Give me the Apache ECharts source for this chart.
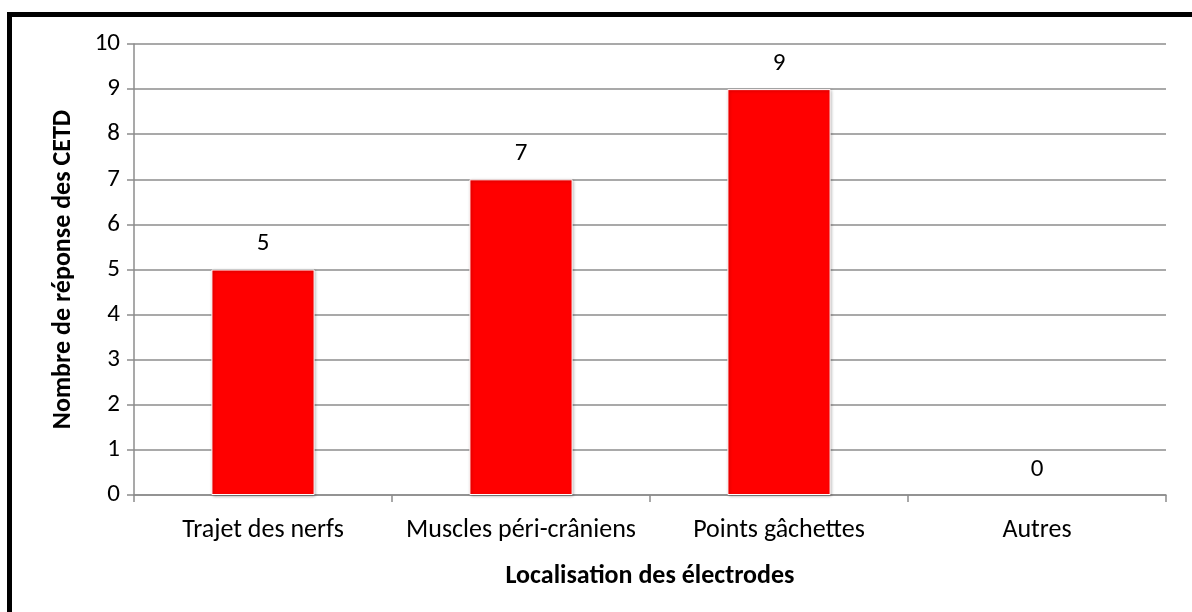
<!DOCTYPE html>
<html><head><meta charset="utf-8">
<script src="https://cdn.jsdelivr.net/npm/echarts@6/dist/echarts.min.js"></script>
<style>html,body{margin:0;padding:0;background:#fff}#c{width:1192px;height:612px}</style>
</head><body><div id="c"></div>
<script>
const categories = ['Trajet des nerfs', 'Muscles péri-crâniens', 'Points gâchettes', 'Autres'];
const values = [5, 7, 9, 0];
const yTitle = 'Nombre de réponse des CETD';
const xTitle = 'Localisation des électrodes';
const FONT = 'Carlito, Lato, "Open Sans", sans-serif';
const chart = echarts.init(document.getElementById('c'));
chart.setOption({
  backgroundColor: '#fff',
  animation: false,
  graphic: [{
    type: 'rect', shape: {x: 9.5, y: 14.5, width: 1300, height: 800},
    style: {fill: 'none', stroke: '#000', lineWidth: 5}, z: 100
  }],
  grid: {left: 134, top: 44, right: 26, bottom: 117, containLabel: false},
  xAxis: {
    type: 'category', data: categories,
    axisLine: {lineStyle: {color: '#8c8c8c', width: 1.5}},
    axisTick: {show: true, length: 7, lineStyle: {color: '#8c8c8c', width: 1.5}},
    axisLabel: {color: '#000', fontSize: 26, fontFamily: FONT, margin: 22, interval: 0},
    name: xTitle, nameLocation: 'middle', nameGap: 68,
    nameTextStyle: {color: '#000', fontSize: 26, fontWeight: 'bold', fontFamily: FONT}
  },
  yAxis: {
    type: 'value', min: 0, max: 10, interval: 1,
    axisLine: {show: true, lineStyle: {color: '#8c8c8c', width: 1.5}},
    axisTick: {show: true, length: 7, lineStyle: {color: '#8c8c8c', width: 1.5}},
    splitLine: {lineStyle: {color: '#8c8c8c', width: 1.5}},
    axisLabel: {color: '#000', fontSize: 25, fontFamily: FONT, margin: 14},
    name: yTitle, nameLocation: 'middle', nameGap: 58, nameRotate: 90,
    nameTextStyle: {color: '#000', fontSize: 26, fontWeight: 'bold', fontFamily: FONT}
  },
  series: [{
    type: 'bar', barWidth: '40%',
    data: values.map(v => v === 0 ? {value: v, itemStyle: {shadowBlur: 0, shadowOffsetX: 0, shadowOffsetY: 0, borderWidth: 0, shadowColor: 'transparent'}} : v),
    itemStyle: {color: '#ff0000', borderColor: '#fff', borderWidth: 1,
      shadowColor: 'rgba(0,0,0,0.3)', shadowBlur: 3, shadowOffsetX: 1, shadowOffsetY: 1},
    label: {show: true, position: 'top', distance: 13, color: '#000', fontSize: 25, fontFamily: FONT}
  }]
});
</script></body></html>
